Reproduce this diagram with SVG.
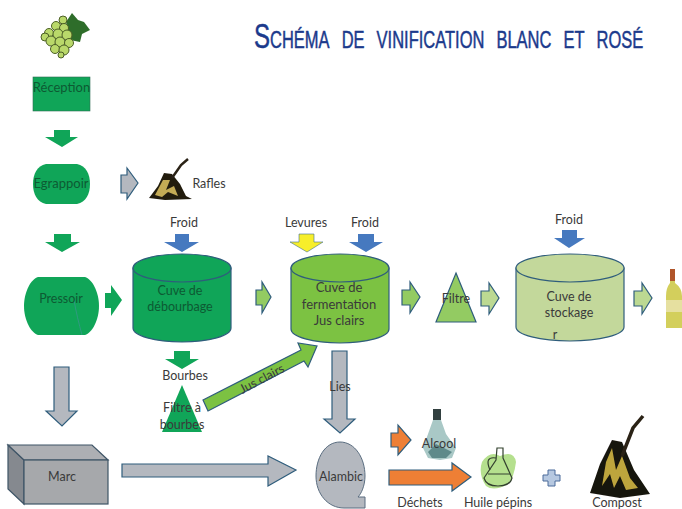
<svg xmlns="http://www.w3.org/2000/svg" width="682" height="509" viewBox="0 0 682 509">
<style>
text{font-family:Lato,"Liberation Sans",sans-serif;font-size:12.5px;fill:#3a3a3a;text-anchor:middle}
.dk{fill:#0d5a33}
.s{stroke:#2f5d7c;stroke-width:1.2}
.g1{fill:#10a558}
.g2{fill:#7cc242}
.g3{fill:#c3d89b}
.g4{fill:#93cb62}
.g5{fill:#bcd992}
.gr{fill:#b4b8bf}
.or{fill:#ee7f35}
.bl{fill:#4679bf}
.ye{fill:#f7ee2a}
.b{fill:#b9d86b;stroke:#4c5f26;stroke-width:1}
.t{fill:none;stroke:#2a2216}
</style>
<defs>
<filter id="soft" x="-10%" y="-10%" width="120%" height="120%"><feGaussianBlur stdDeviation="0.5"/></filter>
</defs>
<rect width="682" height="509" fill="#fff"/>

<text id="title" transform="translate(254 48) scale(.668 1)" style="text-anchor:start;font-family:'Liberation Sans',sans-serif;font-size:36px;font-variant:small-caps;word-spacing:8px;fill:#1b3a8c;stroke:#1b3a8c;stroke-width:.5">Schéma de vinification blanc et rosé</text>

<g id="connectors">
<polygon class="g1" points="54,130 70,130 70,137 78,137 62,147 45,137 54,137"/>
<polygon class="gr s" points="121,175 127,175 127,168 138,183 127,199 127,193 121,193"/>
<polygon class="g1" points="54,234 71,234 71,242 80,242 62,252 45,242 54,242"/>
<polygon class="bl" points="175,234 189,234 189,242 199,242 182,252 164,242 175,242"/>
<polygon class="g1" points="105,293 111,293 111,285 122,300 111,316 111,308 105,308"/>
<polygon class="g4 s" points="256,290 262,290 262,282 271,297 262,313 262,305 256,305"/>
<polygon class="ye" points="299,234 314,234 314,242 323,242 307,252 290,242 299,242" stroke="#3f6f8f" stroke-width=".6"/>
<polygon class="bl" points="358,234 374,234 374,242 383,242 366,252 349,242 358,242"/>
<polygon class="g4 s" points="402,290 410,290 410,282 420,297 410,313 410,305 402,305"/>
<polygon class="g5 s" points="481,291 489,291 489,283 499,298 489,314 489,306 481,306"/>
<polygon class="bl" points="562,230 577,230 577,238 585,238 569,248 554,238 562,238"/>
<polygon class="g5 s" points="634,291 642,291 642,283 652,298 642,314 642,306 634,306"/>
<polygon class="g1" points="174,351 190,351 190,359 199,359 182,369 165,359 174,359"/>
<polygon class="gr s" points="54,367 69,367 69,411 77,411 62,426 46,411 54,411"/>
<polygon class="gr s" points="122,464 268,464 268,456 296,470 268,486 268,477 122,477"/>
<polygon class="g2 s" points="203,400 208,411 304,361 308,367 317,346 298,343 301,350"/>
<text x="262" y="383" transform="rotate(-28 262 379)">Jus clairs</text>
<polygon class="gr s" points="332,351 347,351 347,419 355,419 340,433 324,419 332,419"/>
<text x="340" y="391">Lies</text>
<polygon class="or s" points="391,433 398,433 398,425 411,440 398,455 398,447 391,447"/>
<polygon class="or s" points="389,470 452,470 452,463 471,477 452,491 452,485 389,485"/>
</g>

<g id="grapes" filter="url(#soft)">
<path d="M66 22L72 13 78 20 84 22 90 30 82 34 80 42 70 40Z" fill="#2f6d2a"/>
<circle class="b" cx="63" cy="20" r="4"/><circle class="b" cx="56" cy="26" r="4.500"/><circle class="b" cx="64" cy="28" r="4.500"/><circle class="b" cx="49" cy="33" r="4.500"/><circle class="b" cx="58" cy="34" r="5"/><circle class="b" cx="67" cy="35" r="5"/><circle class="b" cx="45" cy="37" r="4"/><circle class="b" cx="51" cy="41" r="5"/><circle class="b" cx="60" cy="42" r="5"/><circle class="b" cx="69" cy="43" r="4.500"/><circle class="b" cx="55" cy="49" r="4.500"/><circle class="b" cx="64" cy="50" r="5"/><circle class="b" cx="61" cy="55" r="3"/>
</g>

<g id="reception">
<rect class="g1" x="33" y="77" width="57" height="34" stroke="#2f6d55" stroke-width=".6"/>
<text class="dk" x="61.500" y="92" style="font-size:13px">Réception</text>
</g>

<g id="egrappoir">
<path class="g1" d="M46 164H77C86 166 90 174 90 184C90 194 86 202 77 204H46C37 202 33 194 33 184C33 174 37 166 46 164Z"/>
<text class="dk" x="61" y="188" style="font-size:13px">Egrappoir</text>
</g>

<g id="rafles">
<g filter="url(#soft)">
<path d="M149 198L158 186 164 173 172 174 180 184 186 196 192 199 165 200Z" fill="#221d10"/>
<path d="M155 195L163 180 170 180 166 190 174 186 178 196 168 192 162 197Z" fill="#c4ab55"/>
<path d="M172 178L181 165 188 159" class="t" stroke-width="2.500"/>
</g>
<text x="209" y="188">Rafles</text>
</g>

<g id="froid1"><text x="184" y="227">Froid</text></g>

<g id="pressoir">
<path class="g1" d="M38 277H85C92 279 99 292 99 306C99 320 92 333 85 335H38C31 333 24 320 24 306C24 292 31 279 38 277Z"/>
<path d="M74 300C76 312 79 324 82 335" fill="none" stroke="#2f9a80" stroke-width="1"/>
<text class="dk" x="61" y="303">Pressoir</text>
</g>

<g id="debourbage">
<path class="g1 s" d="M133 268V328A49 14 0 0 0 231 328V268Z"/>
<ellipse class="g1 s" cx="182" cy="268" rx="49" ry="14"/>
<text class="dk" x="180" y="295">Cuve de</text>
<text class="dk" x="180" y="311">débourbage</text>
</g>

<g id="bourbes"><text x="185" y="380">Bourbes</text></g>

<g id="filtre-bourbes">
<polygon class="g1" points="182,385 202,432 162,432"/>
<text x="182" y="412">Filtre à</text>
<text x="182" y="429">bourbes</text>
</g>

<g id="levures"><text x="306" y="227">Levures</text></g>
<g id="froid2"><text x="365" y="227">Froid</text></g>

<g id="fermentation">
<path class="g2 s" d="M291 268V329A49 14 0 0 0 389 329V268Z"/>
<ellipse class="g2 s" cx="340" cy="268" rx="49" ry="14"/>
<text x="339" y="292" style="font-size:13px">Cuve de</text>
<text x="339" y="309" style="font-size:13px">fermentation</text>
<text x="339" y="325" style="font-size:13px">Jus clairs</text>
</g>

<g id="filtre">
<polygon class="g4 s" points="456,273 476,322 436,322"/>
<text x="456" y="303">Filtre</text>
</g>

<g id="froid3"><text x="569" y="224">Froid</text></g>

<g id="stockage">
<path class="g3 s" d="M516 268V327A54 14 0 0 0 624 327V268Z"/>
<ellipse class="g3 s" cx="570" cy="268" rx="54" ry="14"/>
<text x="569" y="301">Cuve de</text>
<text x="569" y="317">stockage</text>
<text x="555" y="339">r</text>
</g>

<g id="bouteille" filter="url(#soft)">
<path d="M670 269H675V283Q682 288 682 296V328H666V296Q666 288 670 283Z" fill="#d3cf5c"/>
<rect x="670" y="269" width="5" height="12" fill="#b0552a"/>
<rect x="666" y="300" width="16" height="12" fill="#e6e0a0"/>
</g>

<g id="marc">
<polygon points="8,445 24,460 24,504 8,489" fill="#85898f" stroke="#3f5567" stroke-width="1.2"/>
<polygon points="8,445 92,445 108,460 24,460" fill="#adafb3" stroke="#3f5567" stroke-width="1.2"/>
<rect x="24" y="460" width="84" height="44" fill="#a6a8ab" stroke="#3f5567" stroke-width="1.2"/>
<text x="62" y="481">Marc</text>
</g>

<g id="alambic">
<path class="gr" d="M340 442C355 442 365 458 365 476C365 486 361 494 358 497H365V508H344C328 508 316 494 316 476C316 458 325 442 340 442Z" stroke="#5a6d80" stroke-width="1"/>
<text x="341" y="481">Alambic</text>
</g>

<g id="alcool">
<g filter="url(#soft)">
<rect x="433" y="409" width="8" height="12" fill="#333f40"/>
<path d="M433 420H441L446 434 456 448 452 458 440 460 428 458 423 448Z" fill="#a9c8c6"/>
<path d="M428 452L436 444 452 452 446 458 432 458Z" fill="#5f8a8a"/>
</g>
<text x="439" y="448">Alcool</text>
</g>

<g id="huile">
<g filter="url(#soft)">
<path d="M482 462Q490 450 500 456 514 450 516 462 514 478 508 484 494 492 486 486 478 474 482 462Z" fill="#b5e08e"/>
<path d="M497 448H503V458L512 478Q510 486 498 486 486 486 484 478L496 460Z" fill="none" stroke="#33402f" stroke-width="1.2"/>
<path d="M496 458Q484 456 490 470" fill="none" stroke="#33402f" stroke-width="1.2"/>
<path d="M488 474H510" stroke="#33402f" stroke-width="1"/>
</g>
<text x="498" y="507">Huile pépins</text>
</g>

<g id="dechets"><text x="420" y="507">Déchets</text></g>

<g id="plus">
<polygon points="548,470 555,470 555,475 560,475 560,481 555,481 555,486 548,486 548,481 543,481 543,475 548,475" fill="#b6c8e0" stroke="#4a6b9a" stroke-width="1"/>
</g>

<g id="compost">
<g filter="url(#soft)">
<path d="M590 493L600 464 612 440 622 442 634 470 646 488 650 494 620 498Z" fill="#17140c"/>
<path d="M606 462L612 448 616 470 622 456 630 478 638 488 626 490 620 476 614 488 610 474 602 486Z" fill="#bda53c"/>
<path d="M622 456L633 428 643 416" class="t" stroke-width="3.500"/>
</g>
<text x="617" y="507">Compost</text>
</g>
</svg>
